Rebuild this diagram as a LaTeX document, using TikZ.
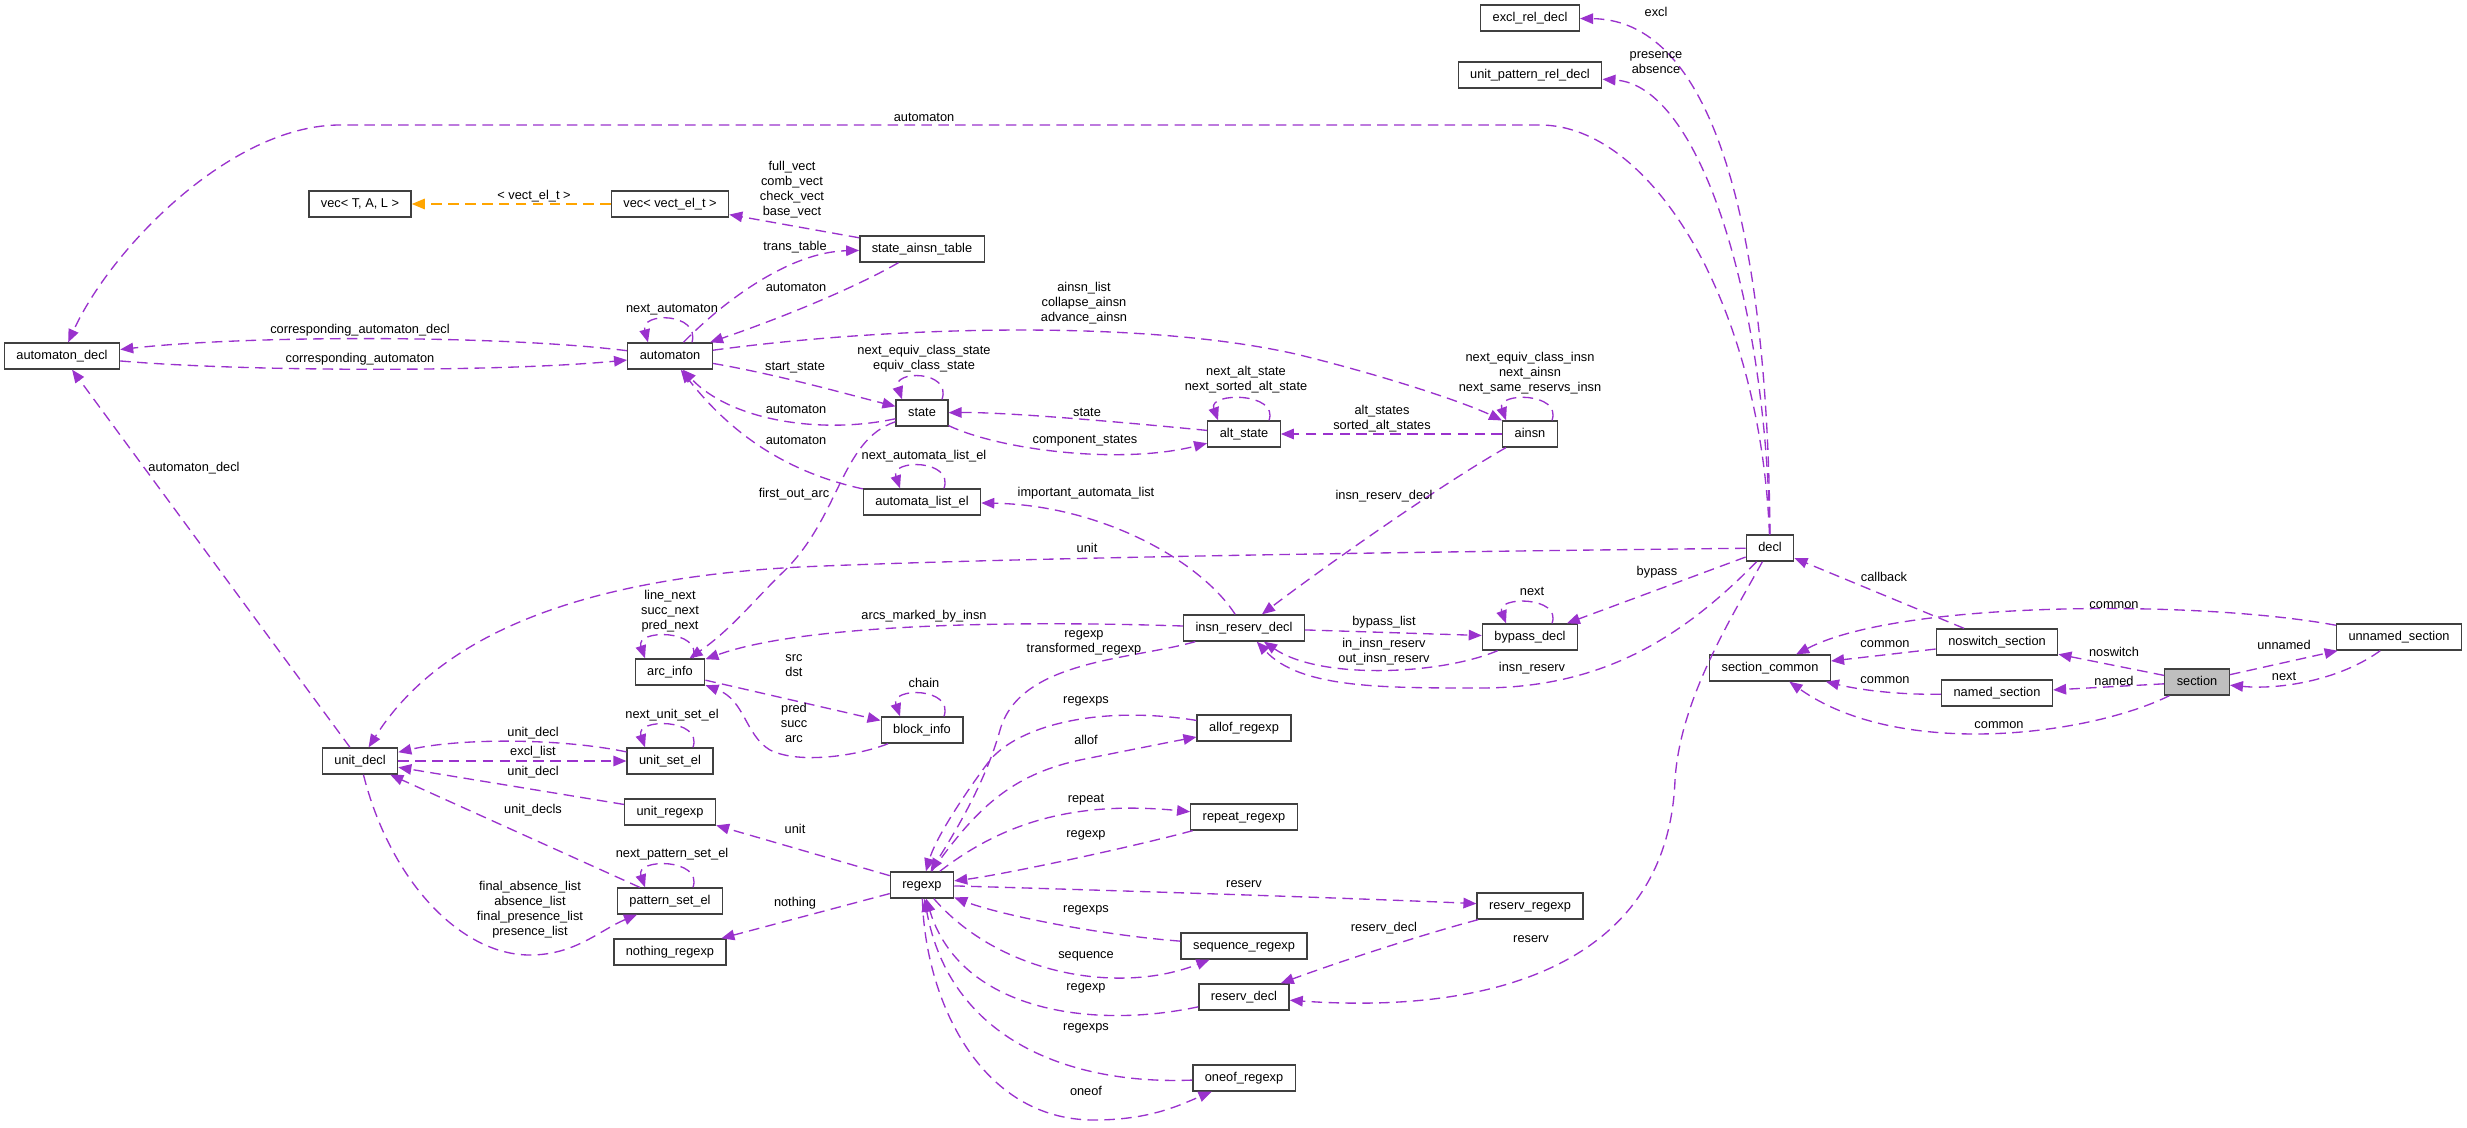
\documentclass[tikz,border=0pt]{standalone}
\usepackage{fontspec}
\setmainfont{Liberation Sans}
\usepackage{tikz}
\usetikzlibrary{arrows.meta}
\definecolor{edgepurple}{RGB}{154,50,205}
\definecolor{tmplorange}{RGB}{255,165,0}
\definecolor{boxgrey}{RGB}{191,191,191}

\begin{document}
\begin{tikzpicture}[x=0.01cm,y=-0.01cm,font=\fontsize{3.64pt}{4.27pt}\selectfont,
    cls/.style={draw=black!75,line width=0.38pt,fill=white,minimum height=0.26cm,
                inner xsep=0.12cm,inner ysep=0pt,text height=0.092cm,text depth=0.028cm},
    cur/.style={cls,fill=boxgrey},
    member/.style={draw=edgepurple,line width=0.38pt,dash pattern=on 3pt off 1.8pt,
                   -{Triangle[length=3.7pt,width=3pt]}},
    tmpl/.style={member,draw=tmplorange},
    lbl/.style={inner sep=0pt,align=center}]
  \useasboundingbox (0,0) rectangle (2467,1127);

  % classes
  \node[cls] (autodecl) at (62,356) {automaton\_decl};
  \node[cls] (vectal) at (360,204) {vec< T, A, L >};
  \node[cls] (vecel) at (670,204) {vec< vect\_el\_t >};
  \node[cls] (automaton) at (670,356) {automaton};
  \node[cls] (satable) at (922,249) {state\_ainsn\_table};
  \node[cls] (exclrel) at (1530,18) {excl\_rel\_decl};
  \node[cls] (upatrel) at (1530,75) {unit\_pattern\_rel\_decl};
  \node[cls] (state) at (922,413) {state};
  \node[cls] (altstate) at (1244,434) {alt\_state};
  \node[cls] (ainsn) at (1530,434) {ainsn};
  \node[cls] (autlist) at (922,502) {automata\_list\_el};
  \node[cls] (decl) at (1770,548) {decl};
  \node[cls] (arcinfo) at (670,672) {arc\_info};
  \node[cls] (insnres) at (1244,628) {insn\_reserv\_decl};
  \node[cls] (bypass) at (1530,637) {bypass\_decl};
  \node[cls] (seccommon) at (1770,668) {section\_common};
  \node[cls] (noswitch) at (1997,642) {noswitch\_section};
  \node[cls] (named) at (1997,693) {named\_section};
  \node[cur] (section) at (2197,682) {section};
  \node[cls] (unnamed) at (2399,637) {unnamed\_section};
  \node[cls] (blockinfo) at (922,730) {block\_info};
  \node[cls] (allof) at (1244,728) {allof\_regexp};
  \node[cls] (unitdecl) at (360,761) {unit\_decl};
  \node[cls] (unitset) at (670,761) {unit\_set\_el};
  \node[cls] (unitre) at (670,812) {unit\_regexp};
  \node[cls] (repeatre) at (1244,817) {repeat\_regexp};
  \node[cls] (regexp) at (922,885) {regexp};
  \node[cls] (patset) at (670,901) {pattern\_set\_el};
  \node[cls] (reservre) at (1530,906) {reserv\_regexp};
  \node[cls] (sequence) at (1244,946) {sequence\_regexp};
  \node[cls] (nothing) at (670,952) {nothing\_regexp};
  \node[cls] (reservdecl) at (1244,997) {reserv\_decl};
  \node[cls] (oneof) at (1244,1078) {oneof\_regexp};

  % members
  \draw[member] (decl) .. controls (1760,300) and (1650,125) .. (1540,125) -- (340,125)
    .. controls (230,125) and (110,250) .. (autodecl);
  \draw[member] (decl) .. controls (1768,250) and (1720,20) .. (exclrel);
  \draw[member] (decl) .. controls (1766,300) and (1700,85) .. (upatrel);
  \draw[member] (automaton) .. controls (500,335) and (250,335) .. (autodecl);
  \draw[member] (autodecl) .. controls (250,372) and (500,372) .. (automaton);
  \draw[tmpl] (vecel) -- (vectal);
  \draw[member] (satable) -- (vecel);
  \draw[member] (automaton) .. controls (725,300) and (790,252) .. (satable);
  \draw[member] (satable) .. controls (860,285) and (790,315) .. (automaton);
  \draw[member] ([xshift=0.22cm]automaton.north) .. controls (700,312) and (640,312)
    .. ([xshift=-0.22cm]automaton.north);
  \draw[member] (automaton) .. controls (900,325) and (1150,320) .. (1300,355)
    .. controls (1400,380) and (1470,405) .. (ainsn);
  \draw[member] (automaton) .. controls (780,375) and (850,395) .. (state);
  \draw[member] (state) .. controls (820,435) and (730,420) .. (automaton);
  \draw[member] (autlist) .. controls (800,475) and (740,445) .. (automaton);
  \draw[member] ([xshift=0.2cm]state.north) .. controls (952,370) and (892,370)
    .. ([xshift=-0.2cm]state.north);
  \draw[member] (altstate) .. controls (1100,420) and (1000,412) .. (state);
  \draw[member] (state) .. controls (1000,450) and (1120,465) .. (altstate);
  \draw[member] ([xshift=0.25cm]altstate.north) .. controls (1279,392) and (1208,392)
    .. ([xshift=-0.26cm]altstate.north);
  \draw[member] (ainsn) -- (altstate);
  \draw[member] ([xshift=0.22cm]ainsn.north) .. controls (1562,392) and (1496,392)
    .. ([xshift=-0.24cm]ainsn.north);
  \draw[member] (ainsn) .. controls (1440,485) and (1320,570) .. (insnres);
  \draw[member] (insnres) .. controls (1200,560) and (1100,505) .. (autlist);
  \draw[member] ([xshift=0.22cm]autlist.north) .. controls (954,459) and (890,459)
    .. ([xshift=-0.22cm]autlist.north);
  \draw[member] (state) .. controls (840,440) and (840,520) .. (780,575)
    .. controls (750,605) and (730,630) .. (arcinfo);
  \draw[member] (decl) .. controls (1400,552) and (1000,558) .. (800,567)
    .. controls (550,580) and (430,650) .. (unitdecl);
  \draw[member] ([xshift=0.23cm]arcinfo.north) .. controls (703,629) and (635,629)
    .. ([xshift=-0.25cm]arcinfo.north);
  \draw[member] (insnres) .. controls (1000,620) and (800,625) .. (arcinfo);
  \draw[member] (arcinfo) -- (blockinfo);
  \draw[member] (blockinfo) .. controls (860,755) and (800,765) .. (770,750)
    .. controls (745,735) and (745,700) .. (arcinfo);
  \draw[member] ([xshift=0.22cm]blockinfo.north) .. controls (954,687) and (890,687)
    .. ([xshift=-0.22cm]blockinfo.north);
  \draw[member] (insnres) -- (bypass);
  \draw[member] (bypass) .. controls (1440,675) and (1320,680) .. (insnres);
  \draw[member] (decl) .. controls (1680,640) and (1600,688) .. (1480,688)
    .. controls (1380,688) and (1300,688) .. (insnres);
  \draw[member] (decl) -- (bypass);
  \draw[member] ([xshift=0.22cm]bypass.north) .. controls (1562,596) and (1496,596)
    .. ([xshift=-0.24cm]bypass.north);
  \draw[member] (decl) .. controls (1730,620) and (1680,700) .. (1675,780)
    .. controls (1668,960) and (1500,1015) .. (reservdecl);
  \draw[member] (noswitch) -- (decl);
  \draw[member] (unnamed) .. controls (2200,600) and (1900,600) .. (seccommon);
  \draw[member] (noswitch) -- (seccommon);
  \draw[member] (named) .. controls (1900,695) and (1860,690) .. (seccommon);
  \draw[member] (section) .. controls (2090,735) and (1900,760) .. (seccommon);
  \draw[member] (section) -- (noswitch);
  \draw[member] (section) -- (named);
  \draw[member] (section) -- (unnamed);
  \draw[member] (unnamed) .. controls (2340,680) and (2280,690) .. (section);
  \draw[member] (unitset) .. controls (560,738) and (460,738) .. (unitdecl);
  \draw[member] (unitdecl) -- (unitset);
  \draw[member] ([xshift=0.23cm]unitset.north) .. controls (703,718) and (635,718)
    .. ([xshift=-0.25cm]unitset.north);
  \draw[member] (unitre) -- (unitdecl);
  \draw[member] (patset) -- (unitdecl);
  \draw[member] (unitdecl) .. controls (390,880) and (460,955) .. (530,955)
    .. controls (575,955) and (600,930) .. (patset);
  \draw[member] ([xshift=0.23cm]patset.north) .. controls (703,858) and (635,858)
    .. ([xshift=-0.25cm]patset.north);
  \draw[member] (regexp) -- (unitre);
  \draw[member] (regexp) -- (nothing);
  \draw[member] (insnres) .. controls (1130,660) and (1020,660) .. (1000,730)
    .. controls (985,785) and (950,840) .. (regexp);
  \draw[member] (allof) .. controls (1100,705) and (1020,725) .. (990,760)
    .. controls (960,800) and (935,840) .. (regexp);
  \draw[member] (regexp) .. controls (975,810) and (1010,775) .. (1080,760)
    .. controls (1130,750) and (1170,742) .. (allof);
  \draw[member] (regexp) .. controls (1000,825) and (1070,800) .. (repeatre);
  \draw[member] (repeatre) .. controls (1120,850) and (1000,875) .. (regexp);
  \draw[member] (regexp) .. controls (1100,890) and (1350,898) .. (reservre);
  \draw[member] (sequence) .. controls (1100,935) and (1000,915) .. (regexp);
  \draw[member] (regexp) .. controls (1000,975) and (1120,995) .. (sequence);
  \draw[member] (reservdecl) .. controls (1090,1030) and (960,1010) .. (regexp);
  \draw[member] (oneof) .. controls (1070,1085) and (950,1040) .. (regexp);
  \draw[member] (regexp) .. controls (925,1000) and (980,1120) .. (1094,1120)
    .. controls (1150,1120) and (1180,1105) .. (oneof);
  \draw[member] (reservre) .. controls (1420,935) and (1330,965) .. (reservdecl);
  \draw[member] (unitdecl) -- (autodecl);

  % member names
  \node[lbl] (lautom) at (924,117) {automaton};
  \node[lbl] (lexcl) at (1656,12) {excl};
  \node[lbl] (lpres) at (1656,63) {presence\\absence};
  \node[lbl] (lcorrdecl) at (360,330) {corresponding\_automaton\_decl};
  \node[lbl] (lcorr) at (360,359) {corresponding\_automaton};
  \node[lbl] (lvectel) at (534,196) {< vect\_el\_t >};
  \node[lbl] (lvects) at (792,190) {full\_vect\\comb\_vect\\check\_vect\\base\_vect};
  \node[lbl] (ltrans) at (795,247) {trans\_table};
  \node[lbl] (lsaaut) at (796,287) {automaton};
  \node[lbl] (lnextaut) at (672,310) {next\_automaton};
  \node[lbl] (lainsn) at (1084,303) {ainsn\_list\\collapse\_ainsn\\advance\_ainsn};
  \node[lbl] (lstart) at (795,368) {start\_state};
  \node[lbl] (lstaut) at (796,409) {automaton};
  \node[lbl] (llistaut) at (796,440) {automaton};
  \node[lbl] (lequiv) at (924,359) {next\_equiv\_class\_state\\equiv\_class\_state};
  \node[lbl] (lstate) at (1087,412) {state};
  \node[lbl] (lcomp) at (1085,441) {component\_states};
  \node[lbl] (laltloop) at (1246,380) {next\_alt\_state\\next\_sorted\_alt\_state};
  \node[lbl] (lalts) at (1382,419) {alt\_states\\sorted\_alt\_states};
  \node[lbl] (lainsnloop) at (1530,373) {next\_equiv\_class\_insn\\next\_ainsn\\next\_same\_reservs\_insn};
  \node[lbl] (linsndecl) at (1384,496) {insn\_reserv\_decl};
  \node[lbl] (limport) at (1086,493) {important\_automata\_list};
  \node[lbl] (llistloop) at (924,456) {next\_automata\_list\_el};
  \node[lbl] (lfirst) at (794,494) {first\_out\_arc};
  \node[lbl] (lunit) at (1087,548) {unit};
  \node[lbl] (larcloop) at (670,611) {line\_next\\succ\_next\\pred\_next};
  \node[lbl] (larcs) at (924,616) {arcs\_marked\_by\_insn};
  \node[lbl] (lsrc) at (794,666) {src\\dst};
  \node[lbl] (lpred) at (794,723) {pred\\succ\\arc};
  \node[lbl] (lchain) at (924,683) {chain};
  \node[lbl] (lbplist) at (1384,622) {bypass\_list};
  \node[lbl] (linout) at (1384,652) {in\_insn\_reserv\\out\_insn\_reserv};
  \node[lbl] (linsnres) at (1532,668) {insn\_reserv};
  \node[lbl] (lbypass) at (1657,572) {bypass};
  \node[lbl] (lbpnext) at (1532,591) {next};
  \node[lbl] (lreserv) at (1531,939) {reserv};
  \node[lbl] (lcallback) at (1884,577) {callback};
  \node[lbl] (lcom1) at (2114,605) {common};
  \node[lbl] (lcom2) at (1885,644) {common};
  \node[lbl] (lcom3) at (1885,680) {common};
  \node[lbl] (lcom4) at (1999,725) {common};
  \node[lbl] (lnoswitch) at (2114,652) {noswitch};
  \node[lbl] (lnamed) at (2114,681) {named};
  \node[lbl] (lunnamed) at (2284,645) {unnamed};
  \node[lbl] (lsecnext) at (2284,676) {next};
  \node[lbl] (lunitdecl1) at (533,733) {unit\_decl};
  \node[lbl] (lexcllist) at (533,752) {excl\_list};
  \node[lbl] (lsetloop) at (672,715) {next\_unit\_set\_el};
  \node[lbl] (lunitdecl2) at (533,772) {unit\_decl};
  \node[lbl] (lunitdecls) at (533,810) {unit\_decls};
  \node[lbl] (llists) at (530,910) {final\_absence\_list\\absence\_list\\final\_presence\_list\\presence\_list};
  \node[lbl] (lpatloop) at (672,854) {next\_pattern\_set\_el};
  \node[lbl] (lunit2) at (795,829) {unit};
  \node[lbl] (lnothing) at (795,903) {nothing};
  \node[lbl] (ltransre) at (1084,643) {regexp\\transformed\_regexp};
  \node[lbl] (lallofre) at (1086,701) {regexps};
  \node[lbl] (lallof) at (1086,740) {allof};
  \node[lbl] (lrepeat) at (1086,800) {repeat};
  \node[lbl] (lrepre) at (1086,835) {regexp};
  \node[lbl] (lreserv2) at (1244,884) {reserv};
  \node[lbl] (lseqre) at (1086,910) {regexps};
  \node[lbl] (lseq) at (1086,956) {sequence};
  \node[lbl] (lrdre) at (1086,988) {regexp};
  \node[lbl] (loneofre) at (1086,1028) {regexps};
  \node[lbl] (loneof) at (1086,1091) {oneof};
  \node[lbl] (lrd) at (1384,928) {reserv\_decl};
  \node[lbl] (lautodecl) at (194,468) {automaton\_decl};
\end{tikzpicture}
\end{document}
